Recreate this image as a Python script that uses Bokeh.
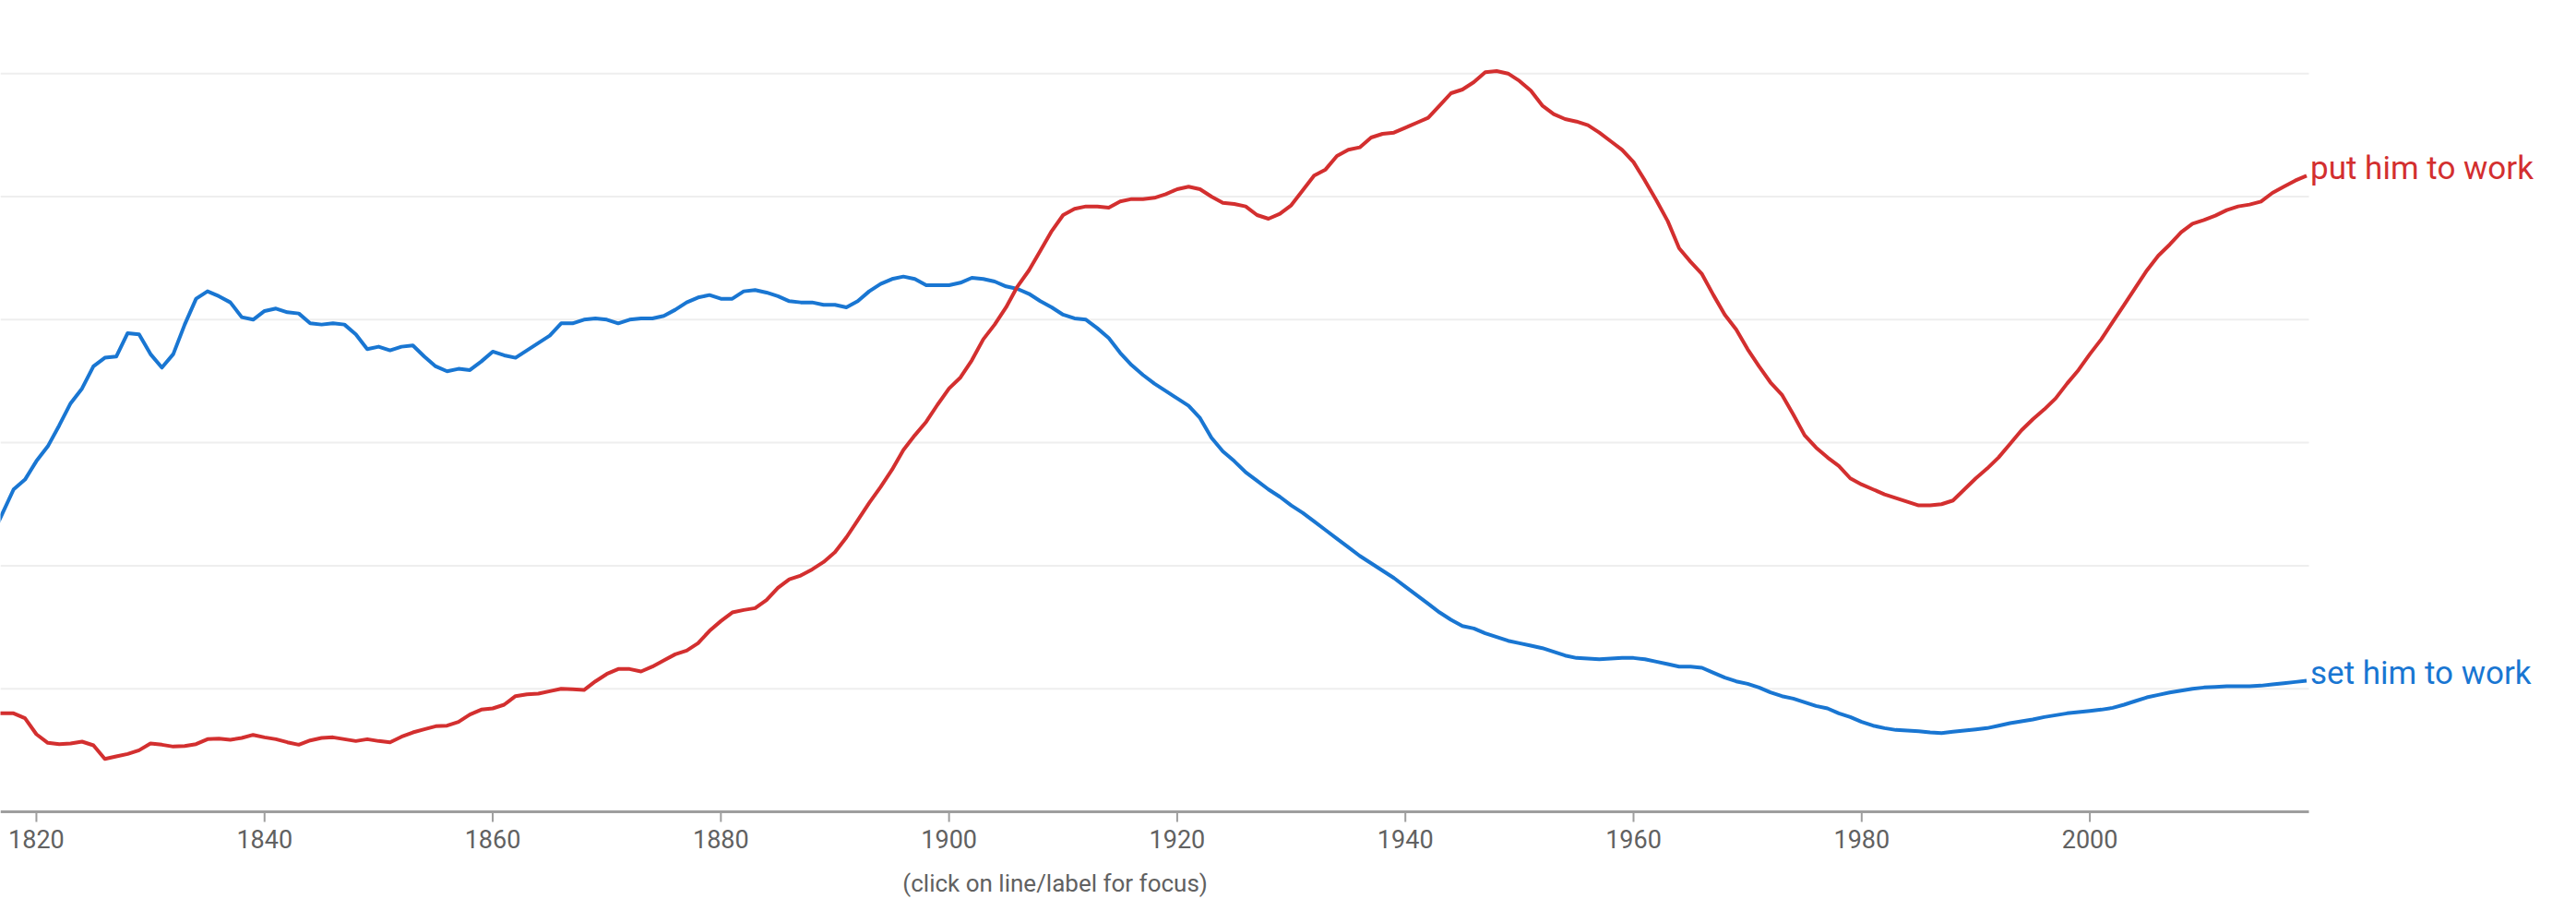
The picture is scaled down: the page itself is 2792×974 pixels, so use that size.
import math
from bokeh.plotting import figure
from bokeh.models import ColumnDataSource
from bokeh.embed import file_html
from bokeh.resources import INLINE

years = list(range(1816, 2020))

set_him_to_work = [
    2.22, 2.42, 2.62, 2.70, 2.85, 2.97, 3.14, 3.32, 3.44, 3.62,  # 1816-1825
    3.69, 3.70, 3.89, 3.88, 3.72, 3.61, 3.72, 3.96, 4.17, 4.23,  # 1826-1835
    4.19, 4.14, 4.02, 4.00, 4.07, 4.09, 4.06, 4.05, 3.97, 3.96,  # 1836-1845
    3.97, 3.96, 3.88, 3.76, 3.78, 3.75, 3.78, 3.79, 3.70, 3.62,  # 1846-1855
    3.58, 3.60, 3.59, 3.66, 3.74, 3.71, 3.69, 3.75, 3.81, 3.87,  # 1856-1865
    3.97, 3.97, 4.00, 4.01, 4.00, 3.97, 4.00, 4.01, 4.01, 4.03,  # 1866-1875
    4.08, 4.14, 4.18, 4.20, 4.17, 4.17, 4.23, 4.24, 4.22, 4.19,  # 1876-1885
    4.15, 4.14, 4.14, 4.12, 4.12, 4.10, 4.15, 4.23, 4.29, 4.33,  # 1886-1895
    4.35, 4.33, 4.28, 4.28, 4.28, 4.30, 4.34, 4.33, 4.31, 4.27,  # 1896-1905
    4.25, 4.21, 4.15, 4.10, 4.04, 4.01, 4.00, 3.93, 3.85, 3.73,  # 1906-1915
    3.63, 3.55, 3.48, 3.42, 3.36, 3.30, 3.20, 3.04, 2.93, 2.85,  # 1916-1925
    2.76, 2.69, 2.62, 2.56, 2.49, 2.43, 2.36, 2.29, 2.22, 2.15,  # 1926-1935
    2.08, 2.02, 1.96, 1.90, 1.83, 1.76, 1.69, 1.62, 1.56, 1.51,  # 1936-1945
    1.49, 1.45, 1.42, 1.39, 1.37, 1.35, 1.33, 1.30, 1.27, 1.25,  # 1946-1955
    1.245, 1.24, 1.245, 1.25, 1.25, 1.24, 1.22, 1.20, 1.18, 1.18,  # 1956-1965
    1.17, 1.13, 1.09, 1.06, 1.04, 1.01, 0.97, 0.94, 0.92, 0.89,  # 1966-1975
    0.86, 0.84, 0.80, 0.77, 0.73, 0.70, 0.68, 0.665, 0.66, 0.655,  # 1976-1985
    0.645, 0.64, 0.65, 0.66, 0.67, 0.68, 0.70, 0.72, 0.735, 0.75,  # 1986-1995
    0.77, 0.785, 0.80, 0.81, 0.82, 0.83, 0.845, 0.87, 0.90, 0.93,  # 1996-2005
    0.95, 0.97, 0.985, 1.00, 1.01, 1.015, 1.02, 1.02, 1.02, 1.025,  # 2006-2015
    1.035, 1.045, 1.055, 1.065,  # 2016-2019
]

put_him_to_work = [
    0.80, 0.80, 0.80, 0.76, 0.63, 0.56, 0.55, 0.555, 0.57, 0.54,  # 1816-1825
    0.43, 0.45, 0.47, 0.50, 0.555, 0.545, 0.53, 0.535, 0.55, 0.59,  # 1826-1835
    0.595, 0.585, 0.60, 0.625, 0.605, 0.59, 0.565, 0.545, 0.58, 0.60,  # 1836-1845
    0.605, 0.59, 0.575, 0.59, 0.575, 0.565, 0.61, 0.645, 0.67, 0.695,  # 1846-1855
    0.70, 0.73, 0.79, 0.83, 0.84, 0.87, 0.94, 0.955, 0.96, 0.98,  # 1856-1865
    1.00, 0.995, 0.99, 1.06, 1.12, 1.16, 1.16, 1.14, 1.18, 1.23,  # 1866-1875
    1.28, 1.31, 1.37, 1.47, 1.55, 1.62, 1.64, 1.655, 1.72, 1.82,  # 1876-1885
    1.89, 1.92, 1.97, 2.03, 2.11, 2.23, 2.37, 2.51, 2.64, 2.78,  # 1886-1895
    2.94, 3.06, 3.17, 3.31, 3.44, 3.53, 3.67, 3.84, 3.96, 4.10,  # 1896-1905
    4.27, 4.40, 4.56, 4.72, 4.85, 4.90, 4.92, 4.92, 4.91, 4.96,  # 1906-1915
    4.98, 4.98, 4.99, 5.02, 5.06, 5.08, 5.06, 5.00, 4.95, 4.94,  # 1916-1925
    4.92, 4.85, 4.82, 4.86, 4.93, 5.05, 5.17, 5.22, 5.33, 5.38,  # 1926-1935
    5.40, 5.48, 5.51, 5.52, 5.56, 5.60, 5.64, 5.74, 5.84, 5.87,  # 1936-1945
    5.93, 6.01, 6.02, 6.00, 5.94, 5.86, 5.74, 5.67, 5.63, 5.61,  # 1946-1955
    5.58, 5.52, 5.45, 5.38, 5.28, 5.13, 4.97, 4.80, 4.58, 4.47,  # 1956-1965
    4.37, 4.20, 4.04, 3.92, 3.76, 3.62, 3.49, 3.39, 3.23, 3.06,  # 1966-1975
    2.96, 2.88, 2.81, 2.71, 2.66, 2.62, 2.58, 2.55, 2.52, 2.49,  # 1976-1985
    2.49, 2.50, 2.53, 2.62, 2.71, 2.79, 2.88, 2.99, 3.10, 3.19,  # 1986-1995
    3.27, 3.36, 3.48, 3.59, 3.72, 3.84, 3.98, 4.12, 4.26, 4.40,  # 1996-2005
    4.52, 4.61, 4.71, 4.78, 4.81, 4.845, 4.89, 4.92, 4.935, 4.96,  # 2006-2015
    5.03, 5.08, 5.13, 5.17,  # 2016-2019
]

tick_years = [1820, 1840, 1860, 1880, 1900, 1920, 1940, 1960, 1980, 2000]
tick_labels = [str(t) for t in tick_years]
grid_values = [1, 2, 3, 4, 5, 6]
series_names = ["put him to work", "set him to work"]
series_colors = ["#d32f2f", "#1976d2"]
note_text = "(click on line/label for focus)"

# visible data window
X_LO, X_HI = 1816.85, 2019.2
Y_TOP = 6.594

W, H = 2792, 974
PLOT_W = 2502          # width in px of the data window
AXIS_PX = 879          # px from top where value 0 sits
px_per_year = PLOT_W / (X_HI - X_LO)
px_per_unit = AXIS_PX / Y_TOP
x_end = X_LO + W / px_per_year
y_start = Y_TOP - H / px_per_unit

src = ColumnDataSource(dict(year=years, put=put_him_to_work, set=set_him_to_work))

p = figure(
    width=W, height=H,
    x_range=(X_LO, x_end), y_range=(y_start, Y_TOP),
    output_backend="svg", toolbar_location=None,
    x_axis_location=None, y_axis_location=None,
    min_border=0,
)
p.outline_line_color = None
p.background_fill_color = "white"
p.border_fill_color = "white"
p.grid.visible = False

# horizontal gridlines limited to the data window
p.segment(x0=[X_LO] * len(grid_values), x1=[X_HI] * len(grid_values),
          y0=grid_values, y1=grid_values, line_color="#eeeeee", line_width=2)

# x axis: base line, ticks and labels
p.segment(x0=[X_LO], x1=[X_HI], y0=[0], y1=[0], line_color="#9e9e9e", line_width=3)
p.ray(x=tick_years, y=[0] * len(tick_years), length=11, length_units="screen",
      angle=-math.pi / 2, line_color="#9e9e9e", line_width=2)
p.text(x=tick_years, y=[0] * len(tick_years), text=tick_labels, y_offset=19,
       text_font={"value": "Roboto"}, text_font_size="27px", text_color="#616161",
       text_align="center", text_baseline="top")

# series
p.line("year", "set", source=src, line_color=series_colors[1], line_width=4, line_join="round")
p.line("year", "put", source=src, line_color=series_colors[0], line_width=4, line_join="round")

last_vals = [put_him_to_work[-1], set_him_to_work[-1]]
p.text(x=[years[-1]] * 2, y=last_vals, text=series_names, x_offset=4, y_offset=-8,
       text_color=series_colors, text_font={"value": "Roboto"}, text_font_size="35px",
       text_align="left", text_baseline="middle")

# footnote
p.text(x=[1909.3], y=[0], text=[note_text], y_offset=62,
       text_color="#616161", text_font={"value": "Roboto"}, text_font_size="26px",
       text_align="center", text_baseline="top")

open("out.html", "w").write(file_html(p, INLINE))
